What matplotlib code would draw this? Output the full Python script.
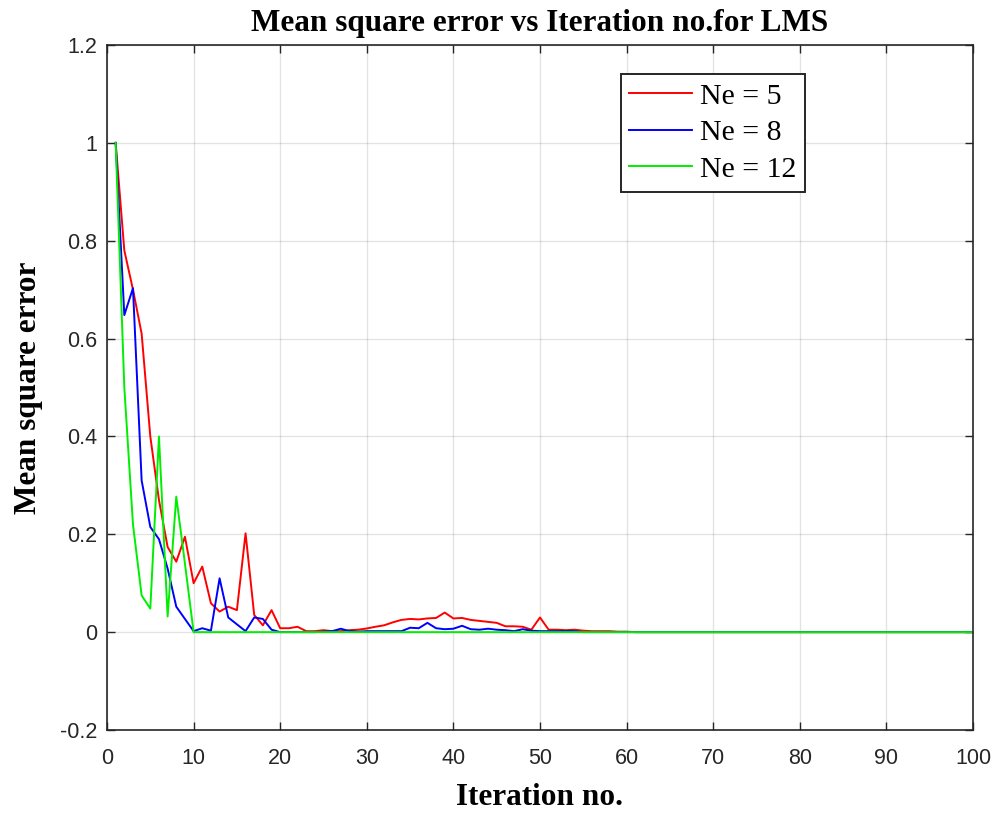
import matplotlib.pyplot as plt
import numpy as np

iterations = np.arange(1, 101)

# Ne = 5
mse_ne5 = [1.0, 0.78, 0.70, 0.61, 0.40, 0.27, 0.174, 0.144, 0.195, 0.10,
           0.134, 0.059, 0.042, 0.052, 0.045, 0.202, 0.035, 0.014, 0.045, 0.008,
           0.008, 0.011, 0.002, 0.002, 0.004, 0.002, 0.002, 0.004, 0.005, 0.0075,
           0.011, 0.014, 0.020, 0.025, 0.027, 0.026, 0.028, 0.029, 0.040, 0.028,
           0.029, 0.025, 0.023, 0.021, 0.019, 0.012, 0.012, 0.011, 0.005, 0.030,
           0.005, 0.005, 0.004, 0.005, 0.003, 0.002, 0.002, 0.002, 0.001, 0.001] + [0.0] * 40

# Ne = 8
mse_ne8 = [1.0, 0.648, 0.703, 0.31, 0.215, 0.19, 0.13, 0.052, 0.027, 0.002,
           0.008, 0.003, 0.11, 0.03, 0.016, 0.002, 0.03, 0.027, 0.005, 0.0,
           0.0, 0.0, 0.0, 0.0, 0.001, 0.002, 0.007, 0.002, 0.001, 0.002,
           0.002, 0.002, 0.002, 0.002, 0.009, 0.008, 0.019, 0.008, 0.006, 0.007,
           0.013, 0.006, 0.005, 0.007, 0.005, 0.004, 0.002, 0.006, 0.003, 0.002,
           0.002, 0.002, 0.002, 0.002] + [0.0] * 46

# Ne = 12
mse_ne12 = [1.0, 0.50, 0.22, 0.075, 0.048, 0.40, 0.032, 0.277, 0.14, 0.0] + [0.0] * 90

W, H = 1000, 813

fig = plt.figure(figsize=(W / 100, H / 100), dpi=100)
ax = fig.add_axes([107 / W, 1 - 730 / H, 866 / W, 685 / H])

ax.plot(iterations, mse_ne5, color="#ff0000", linewidth=1.4, label="Ne = 5")
ax.plot(iterations, mse_ne8, color="#0000ff", linewidth=1.4, label="Ne = 8")
ax.plot(iterations, mse_ne12, color="#00ee00", linewidth=1.4, label="Ne = 12")

ax.set_xlim(0, 100)
ax.set_ylim(-0.2, 1.2)
ax.set_xticks(np.arange(0, 101, 10))
ax.set_yticks(np.arange(-0.2, 1.21, 0.2))
ax.set_yticklabels(["-0.2", "0", "0.2", "0.4", "0.6", "0.8", "1", "1.2"])

ax.grid(True, color="#000000", alpha=0.11, linewidth=1.0)
ax.tick_params(direction="in", top=True, right=True, length=6, width=1.0,
               colors="#262626", labelsize=15.5)
ax.tick_params(axis="x", pad=13)
ax.tick_params(axis="y", pad=7)
for lbl in ax.get_xticklabels() + ax.get_yticklabels():
    lbl.set_family("Liberation Sans")
for sp in ax.spines.values():
    sp.set_color("#262626")
    sp.set_linewidth(1.2)

serif = "Liberation Serif"
ax.set_title("Mean square error vs Iteration no.for LMS", family=serif,
             fontweight="bold", fontsize=22.5, pad=10)
ax.set_xlabel("Iteration no.", family=serif, fontweight="bold", fontsize=22.5, labelpad=10)
ax.set_ylabel("Mean square error", family=serif, fontweight="bold", fontsize=22.5, labelpad=12)

leg = ax.legend(loc="upper left", bbox_to_anchor=(0.593, 0.958), prop={"family": serif, "size": 21.5},
                fancybox=False, framealpha=1, edgecolor="#262626", handlelength=2.1,
                borderpad=0.3, labelspacing=0.32, handletextpad=0.25, borderaxespad=0)
leg.get_frame().set_linewidth(1.4)

fig.savefig("out.png", dpi=100)
